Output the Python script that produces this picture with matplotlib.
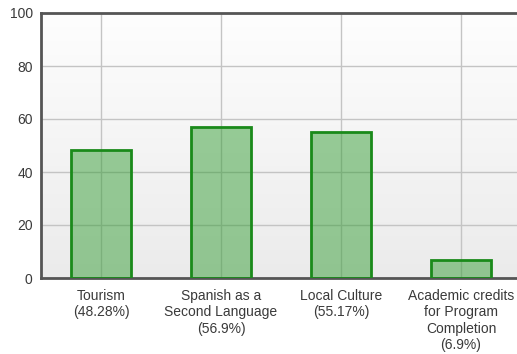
import numpy as np
import matplotlib.pyplot as plt
from matplotlib.colors import LinearSegmentedColormap

# data
categories = ['Tourism\n(48.28%)', 'Spanish as a\nSecond Language\n(56.9%)',
              'Local Culture\n(55.17%)', 'Academic credits\nfor Program\nCompletion\n(6.9%)']
values = [48.28, 56.9, 55.17, 6.9]
y_ticks = [0, 20, 40, 60, 80, 100]

TEXT_COLOR = '#3a3a3a'
plt.rcParams['font.family'] = ['Liberation Sans', 'DejaVu Sans']

fig = plt.figure(figsize=(5.17, 3.54), dpi=100)
ax = fig.add_axes([41 / 517, (354 - 278) / 354, 480 / 517, 265 / 354])

# gradient background
grad = np.linspace(0, 1, 256).reshape(-1, 1)
bg_cmap = LinearSegmentedColormap.from_list('bg', ['#ebebeb', '#fefefe'])
ax.imshow(grad, cmap=bg_cmap, extent=[-0.5, 3.5, 0, 100], origin='lower', aspect='auto', zorder=0)

x = np.arange(len(values))
ax.bar(x, values, width=0.5, color='#2e9b2e', alpha=0.48, zorder=2)
ax.bar(x, values, width=0.5, facecolor='none', edgecolor='#1a8a1a', linewidth=2, zorder=3)

ax.set_xlim(-0.5, 3.5)
ax.set_ylim(0, 100)
ax.set_yticks(y_ticks)
ax.set_xticks(x)
ax.set_xticklabels(categories, fontsize=10, color=TEXT_COLOR, linespacing=1.2)
ax.tick_params(axis='y', labelsize=10, labelcolor=TEXT_COLOR, length=0, pad=6)
ax.tick_params(axis='x', length=0, pad=8)

ax.grid(True, color='#c4c4c4', linewidth=1)
for gl in ax.get_xgridlines() + ax.get_ygridlines():
    gl.set_zorder(1)

for side in ['left', 'bottom', 'top']:
    ax.spines[side].set_color('#555555')
    ax.spines[side].set_linewidth(2)
ax.spines['right'].set_visible(False)

fig.savefig('out.png', dpi=100)
